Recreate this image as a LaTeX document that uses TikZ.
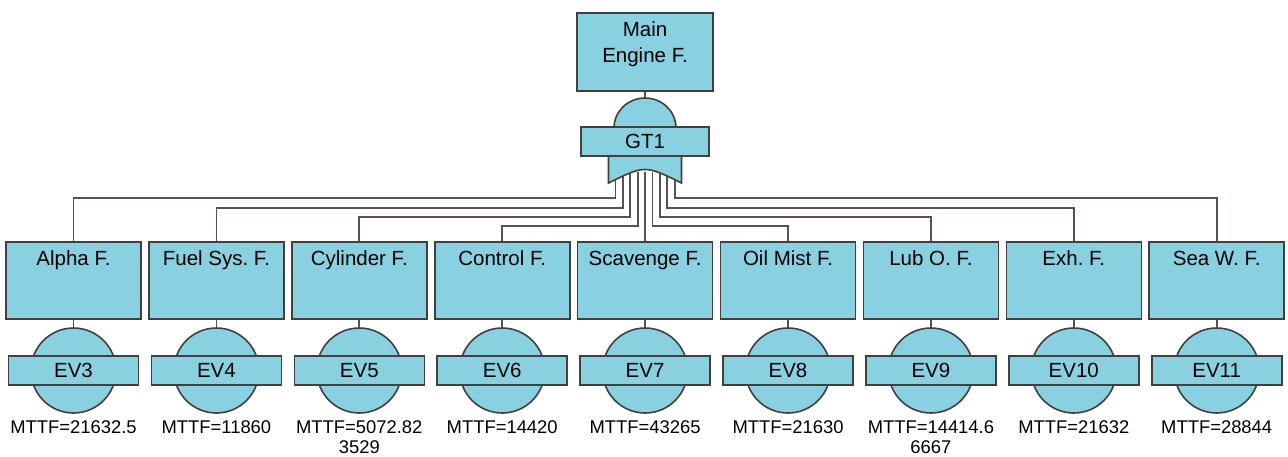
\documentclass[tikz,border=0pt]{standalone}
\usepackage{fontspec}
\setmainfont{Liberation Sans}
\frenchspacing
\pgfdeclarelayer{background}
\pgfsetlayers{background,main}
\definecolor{boxc}{RGB}{137,208,224}
\definecolor{bordc}{RGB}{64,64,64}
\definecolor{linec}{RGB}{95,78,75}
\begin{document}
\begin{tikzpicture}[x=1pt,y=-1pt,
  blk/.style={draw=bordc, fill=boxc, line width=1.6pt, inner sep=0pt},
  fbox/.style={blk, rectangle, minimum width=135pt, minimum height=77pt},
  bar/.style={blk, rectangle, minimum width=130pt, minimum height=29pt, font=\fontsize{20.5}{24}\selectfont},
  evcirc/.style={blk, circle, minimum size=85pt},
  gateshape/.style={draw=bordc, fill=boxc, line width=1.6pt},
  txt/.style={font=\fontsize{20.5}{24}\selectfont, inner sep=0pt},
  mttf/.style={font=\fontsize{18.4}{20}\selectfont, inner sep=0pt},
  conn/.style={draw=linec, line width=1.8pt}]
\useasboundingbox (0,0) rectangle (1288,456);

% top event
\node[fbox, minimum width=136pt, minimum height=78pt] (main) at (645,52) {};
\node[txt, font=\fontsize{20.5}{26}\selectfont, align=center, anchor=north] (maintxt) at ([yshift=-9pt]main.north) {Main\\Engine F.};

% gate GT1
\coordinate (gtop) at (645,97);
\draw[gateshape] (614,128) arc[start angle=180, end angle=360, x radius=31, y radius=30];
\draw[gateshape] (608.5,150) -- (608.5,183) .. controls (645,165) .. (681.5,183) -- (681.5,150) -- cycle;
\node[bar, minimum width=128pt] (gt1) at (645,141.5) {GT1};

% children
\foreach \lab/\ev/\mt [count=\i from 0] in {
 Alpha F./EV3/{MTTF=21632.5},
 Fuel Sys. F./EV4/{MTTF=11860},
 Cylinder F./EV5/{MTTF=5072.82\\3529},
 Control F./EV6/{MTTF=14420},
 Scavenge F./EV7/{MTTF=43265},
 Oil Mist F./EV8/{MTTF=21630},
 Lub O. F./EV9/{MTTF=14414.6\\6667},
 Exh. F./EV10/{MTTF=21632},
 Sea W. F./EV11/{MTTF=28844}}
{
  \pgfmathsetmacro\cx{73.5+142.9*\i}
  \node[fbox] (f\i) at (\cx,280.5) {};
  \node[txt, anchor=base] (ft\i) at ([yshift=-24.5pt]f\i.north) {\lab};
  \node[evcirc] (c\i) at (\cx,370.5) {};
  \node[bar] (e\i) at (\cx,370.5) {\ev};
  \node[mttf, align=center, anchor=north] (m\i) at (\cx,420) {\mt};
}

\begin{pgfonlayer}{background}
  \draw[conn] (main.south) -- (gtop);
  \foreach \i in {0,...,8} {
    \pgfmathsetmacro\dx{645+(\i-4)*7.4}
    \coordinate (d\i) at (\dx,172);
    \draw[conn] (f\i.south) -- (c\i.north);
  }
  \foreach \i/\lv in {0/198,1/208,2/217,3/226,5/226,6/217,7/208,8/198}
    \draw[conn] (d\i) -- ++(0,\lv-172) -| (f\i.north);
  \draw[conn] (d4) -- (d4 |- f4.north);
\end{pgfonlayer}
\end{tikzpicture}
\end{document}
